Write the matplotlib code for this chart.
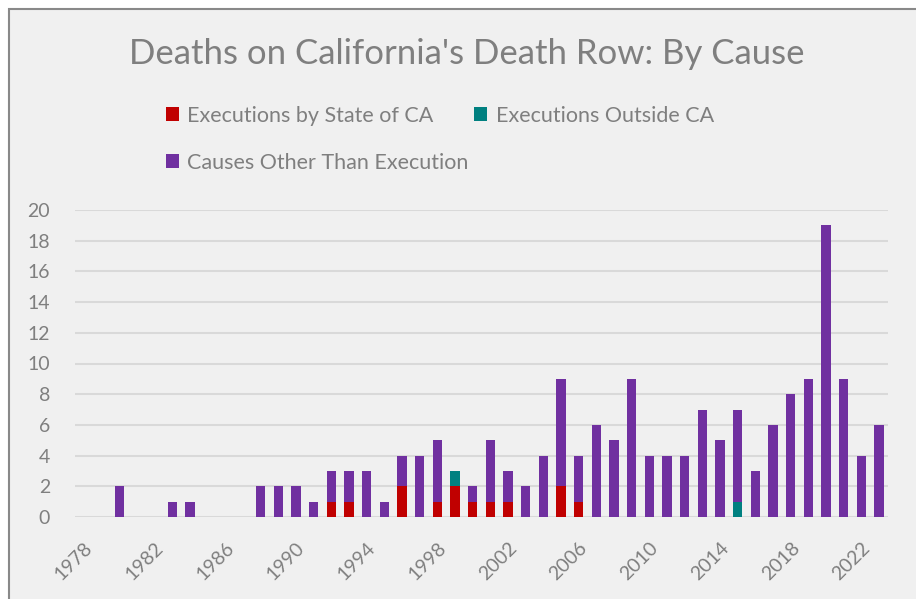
import numpy as np
import matplotlib.pyplot as plt
from matplotlib.patches import Rectangle

# 数据 (1978-2023)
years = list(range(1978, 2024))
ca_exec = [0, 0, 0, 0, 0, 0, 0, 0, 0, 0,
           0, 0, 0, 0, 1, 1, 0, 0, 2, 0,
           1, 2, 1, 1, 1, 0, 0, 2, 1, 0,
           0, 0, 0, 0, 0, 0, 0, 0, 0, 0,
           0, 0, 0, 0, 0, 0]
outside_exec = [0, 0, 0, 0, 0, 0, 0, 0, 0, 0,
                0, 0, 0, 0, 0, 0, 0, 0, 0, 0,
                0, 1, 0, 0, 0, 0, 0, 0, 0, 0,
                0, 0, 0, 0, 0, 0, 0, 1, 0, 0,
                0, 0, 0, 0, 0, 0]
other = [0, 0, 2, 0, 0, 1, 1, 0, 0, 0,
         2, 2, 2, 1, 2, 2, 3, 1, 2, 4,
         4, 0, 1, 4, 2, 2, 4, 7, 3, 6,
         5, 9, 4, 4, 4, 7, 5, 6, 3, 6,
         8, 9, 19, 9, 4, 6]
tick_years = list(range(1978, 2024, 4))

red = '#C00000'
teal = '#008080'
purple = '#7030A0'
gray_text = '#7F7F7F'
bg = '#F0F0F0'

plt.rcParams['font.family'] = ['Lato', 'DejaVu Sans']

fig = plt.figure(figsize=(9.16, 5.99), dpi=100)
fig.patch.set_facecolor('white')

# 图表区背景与边框
frame = Rectangle((9 / 916, -0.1), 1.0, 1 - 9 / 599 + 0.1, transform=fig.transFigure,
                  facecolor=bg, edgecolor='#898989', linewidth=1.5, zorder=-10)
fig.patches.append(frame)

ax = fig.add_axes([75 / 916, 1 - 517 / 599, (888 - 75) / 916, (517 - 210) / 599])
ax.set_facecolor(bg)

x = np.arange(len(years))
w = 0.53
ca = np.array(ca_exec)
out = np.array(outside_exec)
oth = np.array(other)
b1 = ax.bar(x, ca, w, color=red, zorder=3)
b2 = ax.bar(x, out, w, bottom=ca, color=teal, zorder=3)
b3 = ax.bar(x, oth, w, bottom=ca + out, color=purple, zorder=3)

ax.set_xlim(-0.5, len(years) - 0.5)
ax.set_ylim(0, 20)
ax.set_yticks(range(0, 21, 2))
ax.yaxis.grid(True, color='#D9D9D9', linewidth=1.5, zorder=0)
ax.set_axisbelow(True)
for s in ax.spines.values():
    s.set_visible(False)
ax.tick_params(axis='both', length=0, labelsize=14, colors=gray_text)
ax.tick_params(axis='y', pad=18)

ax.set_xticks([years.index(y) for y in tick_years])
ax.set_xticklabels([str(y) for y in tick_years], rotation=45, ha='right',
                   va='top', rotation_mode='anchor')
ax.tick_params(axis='x', pad=16)

fig.text(467 / 916, 1 - 54 / 599, "Deaths on California's Death Row: By Cause",
         ha='center', va='center', fontsize=25, color=gray_text)

fig.legend([b1, b3, b2],
           ['Executions by State of CA', 'Causes Other Than Execution',
            'Executions Outside CA'],
           ncol=2, loc='upper left', bbox_to_anchor=(155 / 916, 1 - 95 / 599),
           frameon=False, fontsize=15.5, labelcolor=gray_text,
           handlelength=0.6, handleheight=0.6, handletextpad=0.4,
           columnspacing=0.25, labelspacing=1.25, borderpad=0)

fig.savefig('out.png', dpi=100, facecolor=fig.get_facecolor())
